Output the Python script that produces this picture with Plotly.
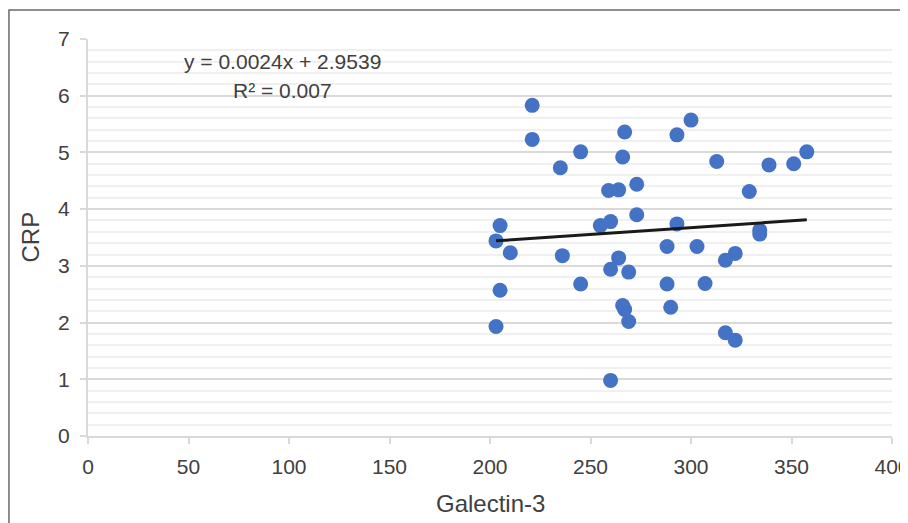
import plotly.graph_objects as go

# Data
galectin3 = [221.0, 221.0, 235.0, 245.1, 267.0, 266.0, 300.0, 293.0, 259.0, 264.0,
             273.0, 205.0, 203.0, 210.1, 254.9, 260.0, 273.0, 293.0, 288.1, 303.0,
             236.0, 264.0, 260.0, 269.0, 288.1, 245.1, 205.0, 266.0, 267.0, 269.0,
             289.9, 203.0, 260.0, 312.8, 338.8, 351.1, 357.6, 329.0, 334.2, 334.2,
             322.0, 317.1, 307.0, 317.1, 322.0]
crp = [5.83, 5.23, 4.73, 5.01, 5.36, 4.92, 5.57, 5.31, 4.33, 4.34,
       4.44, 3.71, 3.44, 3.23, 3.71, 3.78, 3.90, 3.74, 3.34, 3.34,
       3.18, 3.14, 2.94, 2.89, 2.68, 2.68, 2.57, 2.30, 2.23, 2.02,
       2.27, 1.93, 0.98, 4.84, 4.78, 4.80, 5.01, 4.31, 3.63, 3.56,
       3.22, 3.10, 2.69, 1.82, 1.69]

slope = 0.0024
intercept = 2.9539
r_squared = "0.007"

x_ticks = [0, 50, 100, 150, 200, 250, 300, 350, 400]
y_ticks = [0, 1, 2, 3, 4, 5, 6, 7]

FONT = "Liberation Sans, Arial, sans-serif"
TXT = "#404040"

trend_x = [min(galectin3), max(galectin3)]
trend_y = [slope * v + intercept for v in trend_x]

fig = go.Figure()
fig.add_trace(go.Scatter(
    x=galectin3, y=crp, mode="markers",
    marker=dict(size=15, color="#4472C4", line=dict(width=0)),
    showlegend=False, hoverinfo="x+y", cliponaxis=False))
fig.add_trace(go.Scatter(
    x=trend_x, y=trend_y, mode="lines",
    line=dict(color="#1a1a1a", width=3),
    showlegend=False))

# the page body has an 8px margin, so the figure's origin sits at (8, 8)
fig.update_layout(
    width=908, height=523,
    margin=dict(l=80, r=24, t=31, b=95, autoexpand=False),
    paper_bgcolor="white", plot_bgcolor="white",
    font=dict(family=FONT, size=21, color=TXT),
    xaxis=dict(range=[0, 400], tickvals=x_ticks, showgrid=False, zeroline=False,
               automargin=False,
               showline=True, linecolor="#d9d9d9", linewidth=2,
               ticks="outside", ticklen=6, tickwidth=2, tickcolor="#d9d9d9",
               ticklabelstandoff=5,
               tickfont=dict(family=FONT, size=21, color=TXT)),
    yaxis=dict(range=[0, 7], tickvals=y_ticks, showgrid=True, gridcolor="#d9d9d9",
               gridwidth=2, zeroline=False, automargin=False,
               showline=True, linecolor="#d9d9d9", linewidth=2,
               ticks="outside", ticklen=6, tickwidth=2, tickcolor="#d9d9d9",
               ticklabelstandoff=6,
               tickfont=dict(family=FONT, size=21, color=TXT),
               minor=dict(dtick=0.2, showgrid=True, gridcolor="#f0f0f0", gridwidth=2)),
)

fig.add_annotation(text="Galectin-3", xref="paper", yref="paper", x=0.5, y=-0.169,
                   xanchor="center", yanchor="middle", showarrow=False,
                   font=dict(family=FONT, size=24, color=TXT))
fig.add_annotation(text="CRP", xref="paper", yref="paper", x=-0.0721, y=0.5,
                   xanchor="center", yanchor="middle", showarrow=False, textangle=-90,
                   font=dict(family=FONT, size=24, color=TXT))
fig.add_annotation(text=f"y = {slope}x + {intercept}", xref="paper", yref="paper",
                   x=0.2422, y=0.9428, xanchor="center", yanchor="middle",
                   showarrow=False, font=dict(family=FONT, size=21, color=TXT))
fig.add_annotation(text=f"R² = {r_squared}", xref="paper", yref="paper",
                   x=0.2422, y=0.8715, xanchor="center", yanchor="middle",
                   showarrow=False, font=dict(family=FONT, size=21, color=TXT))

fig.add_shape(type="rect", xref="paper", yref="paper",
              x0=-0.0983, y0=-0.24, x1=1.03, y1=1.073,
              line=dict(color="#6a6a6a", width=1.5), fillcolor="rgba(0,0,0,0)",
              layer="above")

fig.write_html("out.html")
